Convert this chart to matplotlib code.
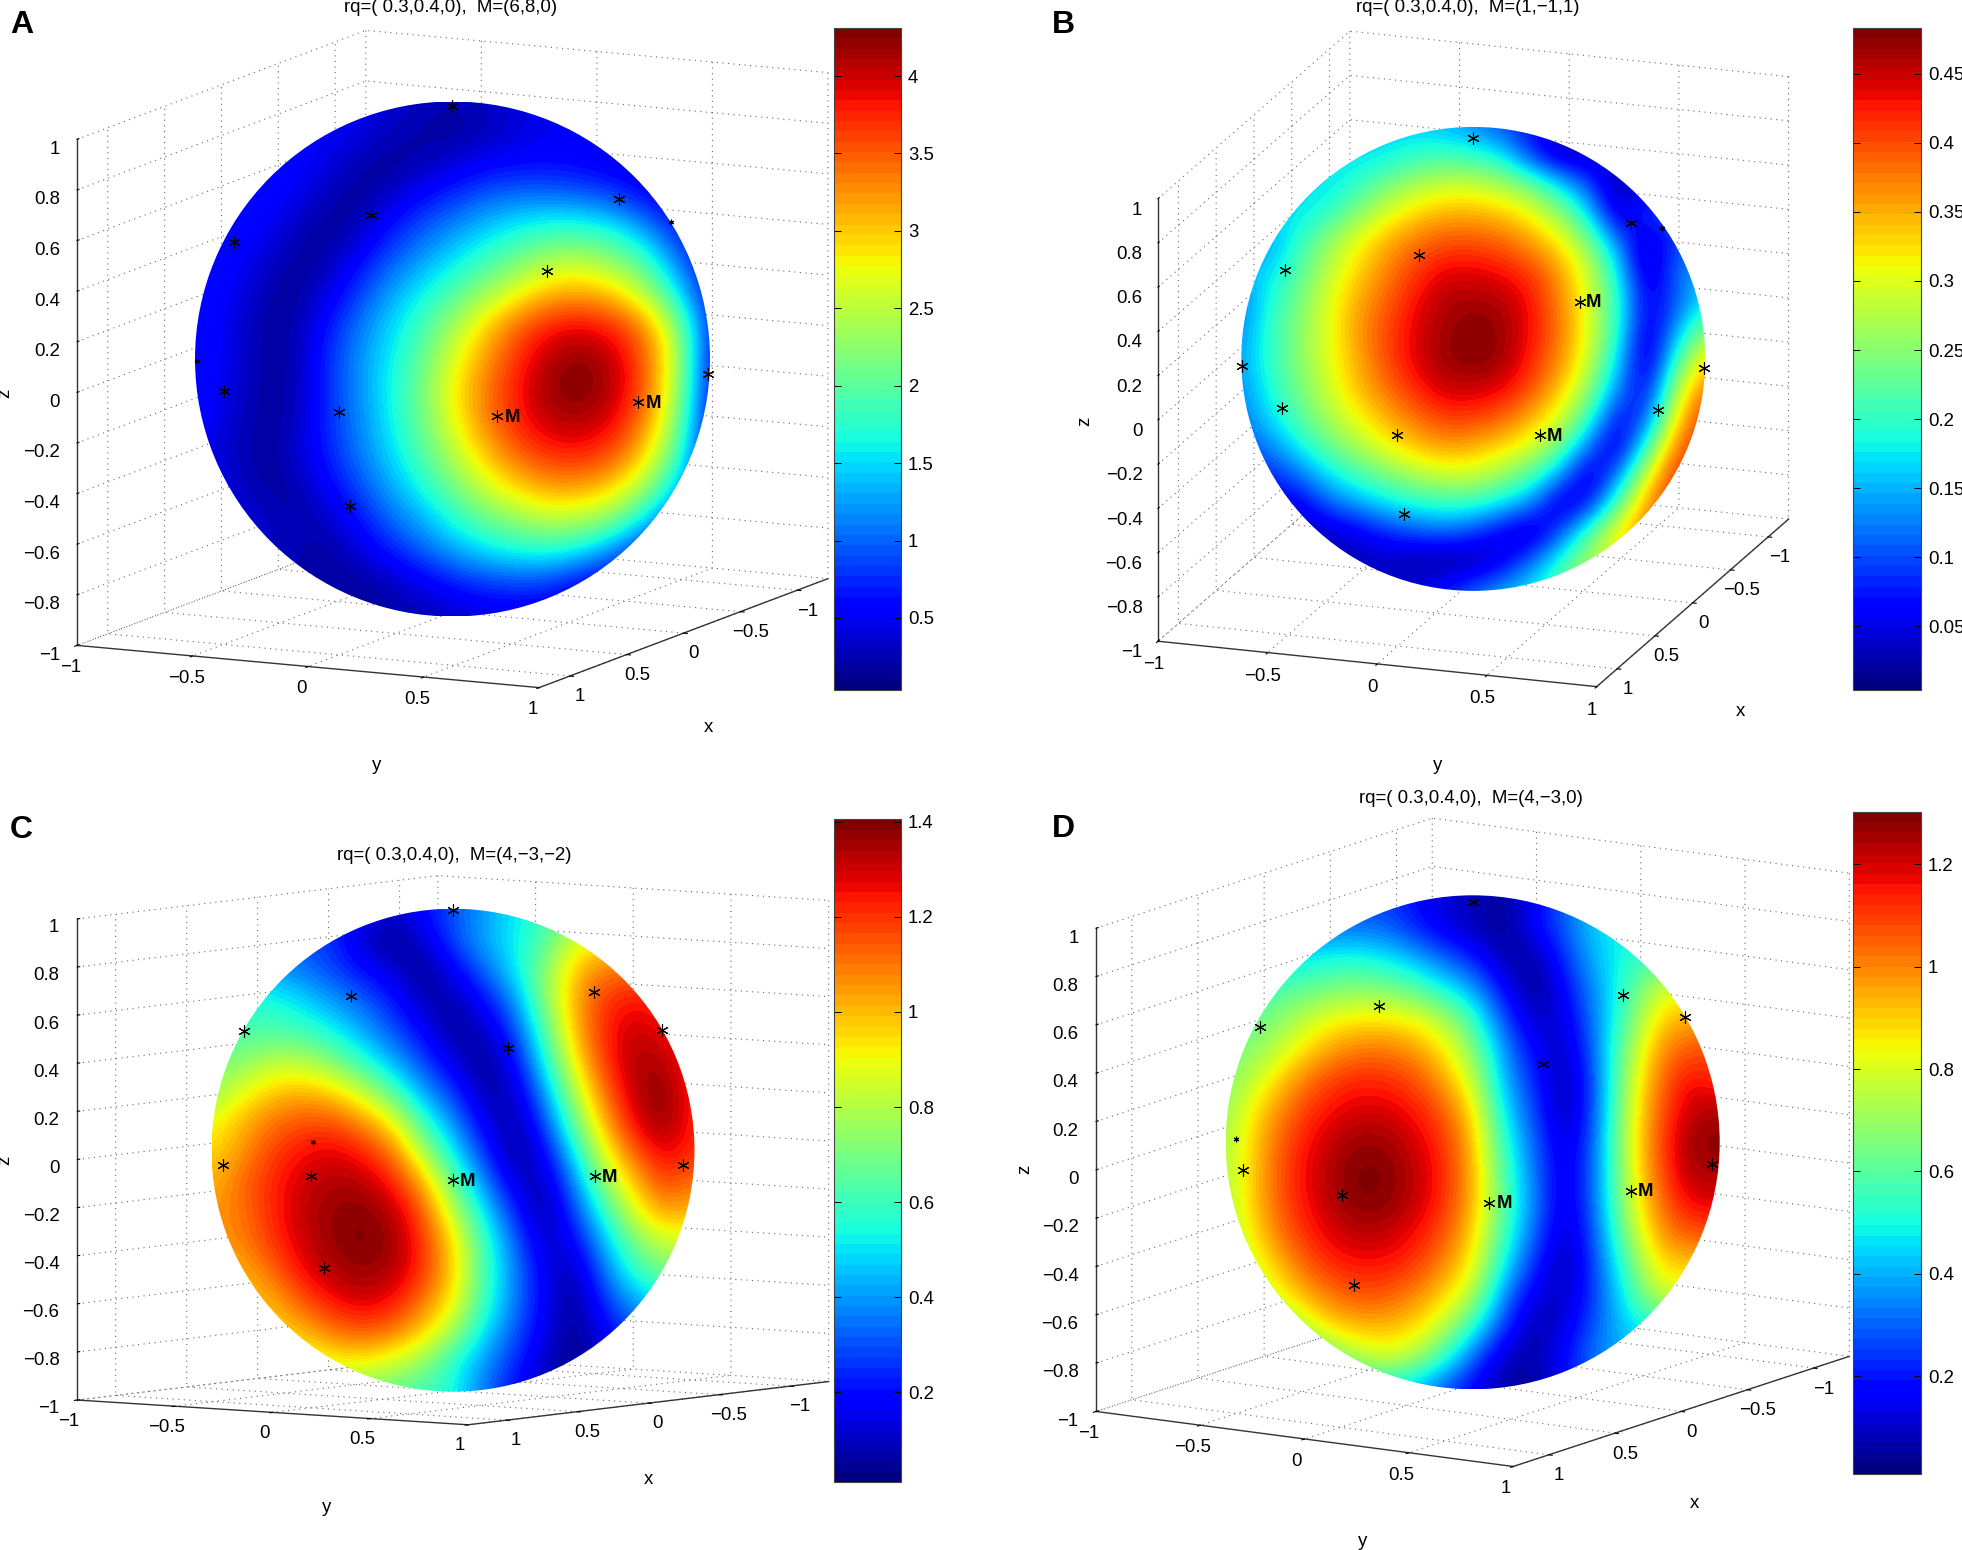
import numpy as np
import matplotlib
matplotlib.use('Agg')
import matplotlib.pyplot as plt
from matplotlib.patches import Circle
from matplotlib.cm import ScalarMappable
from matplotlib.colors import Normalize
from matplotlib.transforms import Affine2D

plt.rcParams['font.family'] = ['Liberation Sans', 'DejaVu Sans']
plt.rcParams['grid.color'] = '#666666'
plt.rcParams['grid.linestyle'] = (0, (1, 4))
plt.rcParams['grid.linewidth'] = 0.8

W, H = 1962, 1550

# values on a 17x17 grid over the visible disc
# rows go from the top of the disc to the bottom, columns from left to right
field_a = [
    [.55, .55, .55, .55, .55, .55, .4, .3, .25, .3, .4, .5, .5, .5, .5, .5, .5],
    [.55, .55, .55, .55, .55, .45, .3, .2, .15, .25, .4, .5, .5, .5, .5, .5, .5],
    [.6, .6, .6, .6, .45, .25, .12, .25, .4, .55, .6, .6, .55, .45, .4, .4, .4],
    [.65, .65, .65, .5, .3, .12, .35, .6, .8, 1.0, 1.1, 1.1, 1.05, .9, .6, .45, .45],
    [.65, .65, .55, .33, .13, .25, .65, .95, 1.2, 1.45, 1.65, 1.8, 1.8, 1.65, 1.25, .7, .5],
    [.6, .6, .4, .18, .2, .55, .95, 1.25, 1.55, 1.85, 2.15, 2.45, 2.5, 2.3, 1.9, 1.1, .55],
    [.65, .55, .3, .12, .4, .8, 1.25, 1.6, 1.95, 2.35, 2.75, 3.1, 3.2, 3.0, 2.5, 1.6, .6],
    [.65, .5, .2, .17, .6, 1.05, 1.45, 1.85, 2.35, 2.95, 3.45, 3.8, 3.9, 3.75, 3.3, 2.3, .7],
    [.65, .5, .2, .17, .7, 1.15, 1.55, 2.0, 2.65, 3.2, 3.7, 4.1, 4.25, 4.05, 3.5, 2.5, .6],
    [.65, .45, .2, .2, .7, 1.15, 1.6, 2.1, 2.8, 3.35, 3.8, 4.2, 4.3, 4.1, 3.5, 2.4, .55],
    [.6, .4, .17, .22, .7, 1.1, 1.55, 2.05, 2.7, 3.3, 3.75, 4.05, 4.1, 3.9, 3.3, 2.2, .5],
    [.5, .35, .15, .3, .65, 1.05, 1.45, 1.9, 2.45, 3.0, 3.45, 3.7, 3.75, 3.55, 2.95, 1.9, .5],
    [.45, .45, .2, .18, .5, .85, 1.25, 1.65, 2.1, 2.6, 2.95, 3.2, 3.2, 2.95, 2.4, 1.4, .5],
    [.4, .4, .4, .18, .3, .6, 1.0, 1.3, 1.7, 2.05, 2.3, 2.5, 2.45, 2.2, 1.5, .8, .5],
    [.3, .3, .3, .3, .15, .35, .65, .95, 1.25, 1.5, 1.65, 1.7, 1.55, 1.1, .6, .5, .5],
    [.2, .2, .2, .2, .2, .15, .25, .45, .65, .8, .85, .8, .5, .4, .4, .4, .4],
    [.15, .15, .15, .15, .15, .15, .2, .25, .3, .4, .4, .4, .4, .4, .4, .4, .4],
]

field_b = [
    [.15, .15, .15, .15, .15, .16, .16, .15, .13, .1, .07, .04, .03, .04, .04, .04, .04],
    [.17, .17, .17, .17, .17, .18, .2, .21, .2, .18, .09, .03, .04, .04, .04, .04, .04],
    [.17, .17, .17, .17, .2, .24, .27, .29, .29, .27, .24, .17, .1, .02, .05, .05, .05],
    [.17, .17, .17, .2, .25, .3, .33, .35, .35, .34, .31, .26, .17, .03, .1, .1, .1],
    [.14, .14, .2, .26, .31, .35, .38, .4, .4, .39, .36, .32, .25, .13, .02, .1, .1],
    [.15, .17, .22, .28, .33, .37, .41, .44, .44, .43, .41, .36, .29, .18, .02, .12, .15],
    [.12, .19, .24, .3, .35, .39, .43, .46, .465, .46, .43, .37, .3, .2, .05, .1, .18],
    [.13, .2, .25, .3, .36, .4, .44, .465, .48, .47, .43, .38, .3, .2, .03, .14, .25],
    [.14, .2, .25, .3, .35, .4, .44, .47, .48, .47, .42, .37, .29, .17, .02, .2, .33],
    [.13, .19, .24, .29, .34, .38, .42, .45, .45, .44, .4, .34, .26, .13, .05, .27, .38],
    [.12, .17, .22, .27, .31, .35, .38, .41, .41, .39, .35, .3, .21, .06, .1, .32, .42],
    [.1, .13, .18, .23, .27, .31, .34, .36, .35, .33, .3, .24, .12, .03, .2, .38, .42],
    [.08, .08, .12, .17, .21, .24, .27, .29, .29, .26, .22, .14, .03, .12, .3, .42, .42],
    [.05, .05, .05, .11, .14, .17, .19, .2, .2, .17, .13, .03, .07, .22, .37, .42, .42],
    [.03, .03, .03, .03, .05, .08, .1, .11, .09, .05, .02, .1, .22, .33, .38, .38, .38],
    [.03, .03, .03, .03, .03, .03, .015, .01, .015, .05, .12, .2, .27, .3, .3, .3, .3],
    [.05, .05, .05, .05, .05, .05, .05, .08, .12, .15, .18, .22, .3, .3, .3, .3, .3],
]

field_c = [
    [.25, .25, .25, .25, .25, .2, .12, .2, .3, .4, .5, .6, .7, .8, .8, .8, .8],
    [.3, .3, .3, .3, .25, .1, .03, .12, .3, .42, .52, .62, .85, .9, .9, .9, .9],
    [.4, .4, .4, .35, .28, .2, .12, .03, .17, .33, .5, .72, .98, 1.1, 1.1, 1.1, 1.1],
    [.55, .55, .55, .48, .4, .32, .22, .08, .07, .2, .38, .72, 1.02, 1.2, 1.25, 1.2, 1.2],
    [.62, .62, .62, .6, .52, .42, .3, .18, .04, .1, .27, .62, 1.0, 1.22, 1.32, 1.25, 1.2],
    [.7, .72, .8, .8, .7, .56, .42, .28, .13, .03, .18, .52, .92, 1.2, 1.35, 1.33, 1.2],
    [.75, .87, .97, 1.0, .95, .82, .62, .4, .26, .06, .1, .4, .8, 1.12, 1.33, 1.39, 1.2],
    [.88, 1.0, 1.1, 1.15, 1.15, 1.05, .9, .58, .38, .15, .05, .28, .68, 1.02, 1.28, 1.39, 1.2],
    [.95, 1.05, 1.18, 1.25, 1.28, 1.22, 1.1, .78, .5, .26, .03, .17, .52, .9, 1.15, 1.3, 1.2],
    [1.0, 1.12, 1.22, 1.3, 1.34, 1.33, 1.22, 1.02, .65, .38, .12, .08, .38, .75, 1.0, 1.2, 1.1],
    [1.05, 1.1, 1.22, 1.32, 1.37, 1.39, 1.33, 1.14, .82, .5, .25, .03, .28, .58, .88, 1.05, 1.0],
    [1.05, 1.08, 1.2, 1.3, 1.37, 1.4, 1.37, 1.2, .95, .6, .34, .1, .17, .45, .7, .85, .85],
    [1.0, 1.0, 1.12, 1.26, 1.34, 1.37, 1.34, 1.2, .97, .62, .38, .15, .07, .35, .58, .7, .7],
    [1.0, 1.0, 1.0, 1.15, 1.25, 1.3, 1.25, 1.1, .92, .6, .37, .17, .03, .25, .42, .5, .5],
    [.95, .95, .95, 1.0, 1.1, 1.15, 1.1, .97, .78, .5, .32, .15, .03, .17, .3, .3, .3],
    [.85, .85, .85, .85, .9, .92, .85, .75, .55, .4, .25, .1, .04, .1, .2, .2, .2],
    [.7, .7, .7, .7, .7, .7, .65, .6, .55, .35, .2, .08, .04, .1, .15, .15, .15],
]

field_d = [
    [.25, .25, .25, .25, .25, .25, .2, .12, .1, .05, .15, .3, .45, .45, .45, .45, .45],
    [.3, .3, .3, .3, .3, .3, .22, .12, .07, .03, .18, .3, .45, .5, .5, .5, .5],
    [.45, .45, .45, .48, .5, .47, .4, .3, .2, .06, .05, .25, .42, .52, .55, .55, .55],
    [.55, .55, .58, .62, .66, .65, .6, .48, .38, .17, .02, .18, .38, .55, .78, .8, .8],
    [.6, .62, .7, .8, .85, .86, .83, .75, .55, .27, .08, .13, .35, .6, .88, .95, .95],
    [.65, .68, .8, .92, 1.0, 1.02, .98, .87, .68, .36, .16, .08, .33, .68, .97, 1.07, 1.07],
    [.66, .78, .94, 1.06, 1.13, 1.13, 1.09, .97, .78, .4, .22, .04, .3, .73, 1.02, 1.18, 1.1],
    [.7, .88, 1.03, 1.14, 1.19, 1.2, 1.16, 1.07, .88, .46, .26, .04, .3, .76, 1.05, 1.22, 1.25],
    [.72, .92, 1.09, 1.19, 1.26, 1.27, 1.21, 1.12, .94, .53, .3, .08, .32, .78, 1.07, 1.27, 1.28],
    [.73, .93, 1.11, 1.21, 1.29, 1.3, 1.24, 1.14, .95, .58, .32, .1, .33, .76, 1.06, 1.25, 1.25],
    [.72, .93, 1.1, 1.2, 1.28, 1.29, 1.23, 1.13, .95, .6, .34, .09, .33, .74, 1.02, 1.18, 1.18],
    [.7, .89, 1.06, 1.16, 1.22, 1.23, 1.17, 1.08, .9, .56, .3, .07, .3, .68, .96, 1.07, 1.07],
    [.7, .81, .97, 1.1, 1.15, 1.15, 1.12, 1.0, .85, .48, .22, .04, .28, .58, .88, .9, .9],
    [.7, .7, .87, .98, 1.06, 1.07, 1.0, .9, .75, .34, .13, .08, .27, .5, .78, .78, .78],
    [.65, .65, .65, .85, .92, .93, .9, .78, .52, .25, .04, .13, .3, .45, .5, .5, .5],
    [.55, .55, .55, .55, .7, .8, .75, .55, .3, .08, .06, .19, .35, .4, .4, .4, .4],
    [.45, .45, .45, .45, .45, .45, .4, .28, .15, .05, .05, .15, .3, .35, .35, .35, .35],
]

stars_u_a = [0, .647, .847, -.316, -.847, .368, -.993, -.886, -.441, -.398, .174, .722, .991]
stars_v_a = [.981, .62, .532, .559, .453, .342, -.009, -.126, -.206, -.57, -.223, -.168, -.06]
stars_u_b = [0, .678, .815, -.236, -.812, .458, -.995, .995, -.823, .797, -.329, .289, -.3]
stars_v_b = [.951, .587, .566, .449, .383, .247, -.03, -.04, -.211, -.219, -.328, -.33, -.668]
stars_u_c = [0, -.423, .582, -.866, .866, .229, -.579, -.954, .951, -.589, 0, .589, -.535]
stars_v_c = [.996, .64, .654, .493, .499, .425, .033, -.063, -.063, -.106, -.123, -.106, -.487]
stars_u_d = [0, .61, -.381, -.861, .861, .284, -.958, -.928, .968, -.53, .068, .642, -.481]
stars_v_d = [.974, .598, .552, .466, .508, .316, .012, -.114, -.086, -.214, -.244, -.196, -.576]
# which marks carry the M label
m_marks_a = [10, 11]
m_marks_b = [5, 11]
m_marks_c = [10, 11]
m_marks_d = [10, 11]
# marks that barely poke through the surface
small_marks_a = [2, 6]
small_marks_b = [2]
small_marks_c = [6]
small_marks_d = [6]

axis_ticks = [-1, -.5, 0, .5, 1]
axis_labels = ['\u22121', '\u22120.5', '0', '0.5', '1']
z_ticks = [-1, -.8, -.6, -.4, -.2, 0, .2, .4, .6, .8, 1]
z_labels = ['\u22121', '\u22120.8', '\u22120.6', '\u22120.4', '\u22120.2', '0', '0.2', '0.4', '0.6', '0.8', '1']
x_range = (-1.27, 1.27)
FS = 13.4

panels = [
    dict(letter='A', title='rq=( 0.3,0.4,0),  M=(6,8,0)', field=field_a, su=stars_u_a, sv=stars_v_a,
         mm=m_marks_a, small=small_marks_a,
         vmin=.035, vmax=4.31, ticks=[.5, 1, 1.5, 2, 2.5, 3, 3.5, 4],
         az=26.2, el=10.7, cx=452.5, cy=359, r=257.5, bar=(834, 28, 901, 690),
         letter_xy=(10, 33), title_xy=(451, 8),
         x_xy=(708, 727), y_xy=(377, 766), z_xy=(5, 393), x_off=(14, 4), y_off=(-19, 0)),
    dict(letter='B', title='rq=( 0.3,0.4,0),  M=(1,\u22121,1)', field=field_b, su=stars_u_b, sv=stars_v_b,
         mm=m_marks_b, small=small_marks_b,
         vmin=.004, vmax=.483, ticks=[.05, .1, .15, .2, .25, .3, .35, .4, .45],
         az=19, el=17.5, cx=1473.3, cy=358.9, r=232, bar=(1853, 28, 1921, 690),
         letter_xy=(1052, 33), title_xy=(1468, 8),
         x_xy=(1740, 712), y_xy=(1438, 766), z_xy=(1085, 421), x_off=(14, 4), y_off=(-18, -4)),
    dict(letter='C', title='rq=( 0.3,0.4,0),  M=(4,\u22123,\u22122)', field=field_c, su=stars_u_c, sv=stars_v_c,
         mm=m_marks_c, small=small_marks_c,
         vmin=.011, vmax=1.405, ticks=[.2, .4, .6, .8, 1, 1.2, 1.4],
         az=36, el=5, cx=453, cy=1150.2, r=241.5, bar=(834, 819.5, 901, 1482),
         letter_xy=(10, 838), title_xy=(454, 855),
         x_xy=(648, 1479), y_xy=(327, 1507), z_xy=(5, 1160), x_off=(-11, -10), y_off=(8, -10)),
    dict(letter='D', title='rq=( 0.3,0.4,0),  M=(4,\u22123,0)', field=field_d, su=stars_u_d, sv=stars_v_d,
         mm=m_marks_d, small=small_marks_d,
         vmin=.01, vmax=1.303, ticks=[.2, .4, .6, .8, 1, 1.2],
         az=32.4, el=12, cx=1472.7, cy=1142.3, r=247, bar=(1853, 811.6, 1921, 1473.5),
         letter_xy=(1052, 837), title_xy=(1471, 798),
         x_xy=(1694.5, 1504), y_xy=(1363, 1541), z_xy=(1024.5, 1169), x_off=(18, 5), y_off=(-18, 0)),
]


def rect_px(left, top, right, bottom):
    return [left / W, 1 - bottom / H, (right - left) / W, (bottom - top) / H]


def shift_labels(axis, dx, dy, ha=None):
    for tick in axis.get_major_ticks():
        tick.label1.set_transform(tick.label1.get_transform() + Affine2D().translate(dx, dy))
        if ha:
            tick.label1.set_ha(ha)


def draw_frame(fig, p):
    # size of the 3d axes so one data unit comes out as p['r'] pixels
    aspect = np.array([x_range[1] - x_range[0], 2, 2])
    k = 1.8294640721620434 * 25 / 24 / np.linalg.norm(aspect)
    side = p['r'] * 1.85 / k
    left = p['cx'] - side * 0.095 / 0.185
    bottom = p['cy'] + side * 0.095 / 0.185
    ax = fig.add_axes(rect_px(left, bottom - side, left + side, bottom), projection='3d',
                      proj_type='ortho', azim=p['az'], elev=p['el'], zorder=1)
    ax.patch.set_alpha(0)
    ax.set_box_aspect(aspect)
    ax.set_xlim(x_range, view_margin=0)
    ax.set_ylim(-1, 1, view_margin=0)
    ax.set_zlim(-1, 1, view_margin=0)
    ax.set_xticks(axis_ticks, labels=axis_labels)
    ax.set_yticks(axis_ticks, labels=axis_labels)
    ax.set_zticks(z_ticks, labels=z_labels)
    ax.tick_params(labelsize=FS, pad=0)
    for axis in (ax.xaxis, ax.yaxis, ax.zaxis):
        axis.set_pane_color((1, 1, 1, 0))
        axis.pane.set_edgecolor('#666666')
        axis.pane.set_linestyle((0, (1, 4)))
        axis.pane.set_linewidth(0.8)
        axis.line.set_color('#333333')
        axis.line.set_linewidth(1.0)
    for axis in (ax.xaxis, ax.yaxis):
        axis._axinfo['tick'].update({'inward_factor': 0.1, 'outward_factor': 0.0, 'linewidth': {True: .8, False: .5}})
    ax.zaxis._axinfo['tick'].update({'inward_factor': 0.0, 'outward_factor': 0.08, 'linewidth': {True: .8, False: .5}})
    shift_labels(ax.xaxis, *p['x_off'])
    shift_labels(ax.yaxis, *p['y_off'])
    shift_labels(ax.zaxis, 0, 7, ha='right')
    return ax


def draw_disc(fig, p):
    ax = fig.add_axes(rect_px(p['cx'] - p['r'], p['cy'] - p['r'], p['cx'] + p['r'], p['cy'] + p['r']), zorder=2)
    half = 1 + 1 / 16
    # the image resampler smooths between the read values, then the 64 steps of jet apply
    im = ax.imshow(np.array(p['field']), extent=(-half, half, -half, half), origin='upper', aspect='auto',
                   cmap=plt.get_cmap('jet', 64), vmin=p['vmin'], vmax=p['vmax'],
                   interpolation='bicubic', interpolation_stage='data')
    im.set_clip_path(Circle((0, 0), 1, transform=ax.transData))
    ax.set_xlim(-1, 1)
    ax.set_ylim(-1, 1)
    ax.axis('off')
    for i, (u, v) in enumerate(zip(p['su'], p['sv'])):
        size = 4 if i in p['small'] else 9
        ax.plot(u, v, linestyle='none', marker=(6, 2, 0), markersize=size, markeredgewidth=0.8,
                color='k', clip_on=False)
    for i in p['mm']:
        ax.text(p['su'][i] + .028, p['sv'][i] - .005, 'M', fontsize=FS, fontweight='bold', va='center', ha='left')


def draw_colorbar(fig, p):
    left, top, right, bottom = p['bar']
    cax = fig.add_axes(rect_px(left, top, right, bottom), zorder=3)
    sm = ScalarMappable(norm=Normalize(p['vmin'], p['vmax']), cmap=plt.get_cmap('jet', 64))
    cb = fig.colorbar(sm, cax=cax, ticks=p['ticks'], format='%g')
    cb.outline.set_linewidth(0.8)
    cb.outline.set_edgecolor('#444444')
    cax.tick_params(direction='in', left=True, right=True, length=5, width=.7, labelsize=FS, pad=5)


def label_px(fig, xy, text, **kw):
    fig.text(xy[0] / W, 1 - xy[1] / H, text, **kw)


fig = plt.figure(figsize=(W / 100, H / 100), dpi=100)
for p in panels:
    draw_frame(fig, p)
    draw_disc(fig, p)
    draw_colorbar(fig, p)
    label_px(fig, p['letter_xy'], p['letter'], fontsize=23, fontweight='bold', va='baseline')
    label_px(fig, p['title_xy'], p['title'], fontsize=FS, ha='center', va='center')
    label_px(fig, p['x_xy'], 'x', fontsize=FS, ha='center', va='center')
    label_px(fig, p['y_xy'], 'y', fontsize=FS, ha='center', va='center')
    label_px(fig, p['z_xy'], 'z', fontsize=FS, ha='center', va='center', rotation=90)

fig.savefig('out.png', dpi=100)
